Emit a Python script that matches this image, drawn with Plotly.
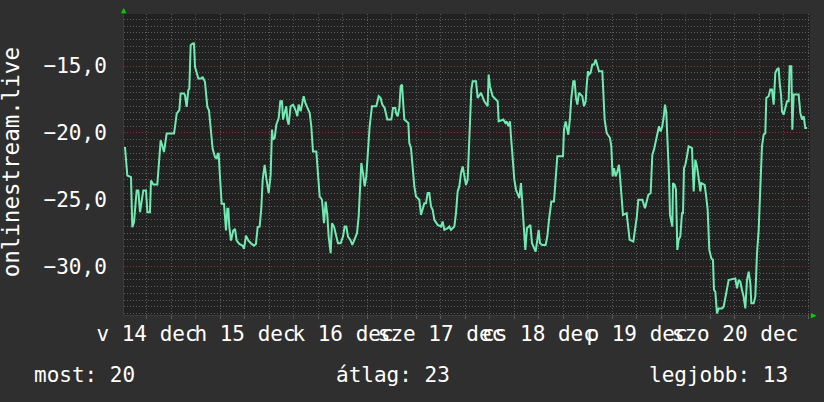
import pandas as pd
import plotly.graph_objects as go

# ---- data (hours since 2014-12-14 00:00, rank values) ----
START = "2014-12-14 00:00"

HOURS_A = [6.61, 6.86, 7.18, 8.08, 8.41, 8.82, 9.47, 9.88, 10.29, 11.10,
           11.76, 12.08, 12.73, 12.98, 13.55, 14.53, 15.02, 15.35, 15.84, 16.16,
           16.82, 18.61, 18.86, 19.27, 19.92, 20.24, 21.06, 21.31, 21.71, 22.12,
           22.37, 22.69, 23.18, 23.51, 23.76, 24.16, 24.57, 25.39, 25.63, 26.20,
           26.78, 27.18, 27.59, 28.08, 28.65, 29.06, 29.31, 29.55, 29.88, 30.29,
           30.86, 31.35, 31.67, 31.92, 32.16, 32.57, 33.14, 33.55, 33.96, 34.61,
           35.43, 35.76, 36.24, 36.82, 37.63, 38.20, 38.69, 39.10, 39.59]
VALUES_A = [-21.05, -22.05, -23.18, -23.30, -27.05, -26.68, -24.30, -24.30, -25.93, -24.30,
            -24.30, -25.93, -25.93, -23.55, -23.85, -23.85, -22.18, -20.55, -21.05, -21.43,
            -20.05, -20.05, -19.55, -18.55, -18.30, -17.05, -17.05, -17.18, -18.05, -16.80,
            -16.68, -13.43, -13.30, -13.30, -15.05, -15.43, -15.93, -15.93, -15.80, -16.18,
            -18.05, -18.30, -19.80, -21.18, -21.80, -21.93, -21.55, -21.55, -23.30, -25.30,
            -25.30, -27.30, -25.68, -25.68, -27.05, -28.05, -27.30, -27.18, -28.05, -28.30,
            -28.43, -28.68, -27.68, -28.05, -28.30, -28.43, -28.30, -27.05, -27.00]

HOURS_B = [40.00, 40.33, 40.82, 41.22, 41.80, 42.29, 42.61, 42.86, 43.27, 43.67,
           44.25, 44.65, 45.06, 45.31, 45.71, 46.12, 46.37, 46.69, 47.18, 47.76,
           48.33, 48.82, 49.14, 49.63, 49.96, 50.37, 50.78, 51.27, 51.84, 52.24,
           52.65, 53.47, 53.88, 54.29, 54.86, 55.35, 55.76, 56.16, 56.49, 56.98,
           57.31, 57.80, 58.37, 58.78, 59.43, 60.00, 60.41, 60.82, 61.22, 61.80,
           62.29, 62.86, 63.43, 63.84, 64.08, 64.49, 64.90, 65.31, 65.71, 66.12,
           66.53, 67.10, 68.16, 68.74, 69.22, 69.63, 70.20, 70.86, 71.84, 72.24,
           72.82]
VALUES_B = [-25.63, -23.50, -22.38, -23.38, -24.50, -23.13, -19.75, -20.50, -20.38, -19.38,
            -18.88, -17.63, -17.63, -19.00, -18.38, -18.00, -19.00, -19.38, -18.00, -17.88,
            -18.25, -18.75, -17.88, -18.38, -17.88, -17.25, -17.75, -18.13, -18.50, -19.50,
            -21.38, -21.38, -23.00, -24.75, -25.00, -26.75, -25.13, -26.13, -27.75, -29.00,
            -26.75, -27.00, -27.75, -28.25, -28.25, -27.75, -27.00, -27.00, -27.75, -28.00,
            -28.38, -28.00, -27.50, -26.25, -24.25, -22.25, -23.00, -24.00, -23.25, -20.88,
            -19.50, -18.00, -18.00, -17.25, -17.38, -17.88, -18.13, -19.00, -19.00, -18.13,
            -18.13]

HOURS_C = [72.98, 73.39, 73.80, 74.12, 74.45, 74.78, 75.02, 76.00, 76.24, 76.65,
           77.06, 77.47, 77.88, 78.69, 79.10, 79.51, 79.92, 80.33, 80.73, 81.14,
           81.55, 81.96, 82.37, 83.18, 84.00, 84.41, 84.82, 85.63, 86.04, 86.45,
           87.27, 87.67, 88.08, 88.49, 88.90, 89.31, 89.71, 90.12, 90.53, 90.78,
           91.10, 91.43, 91.76, 92.57, 92.98, 93.80, 94.61, 95.43, 95.67, 96.00,
           96.65, 97.47, 97.88, 98.12, 99.27, 99.76, 100.08, 100.49, 100.90, 101.14,
           101.55, 101.96, 102.37, 103.18, 103.59, 104.00, 104.41, 104.65, 105.06, 105.88,
           106.29, 106.86]
VALUES_C = [-18.50, -18.75, -18.13, -16.50, -16.38, -17.75, -19.00, -19.25, -20.75, -21.13,
            -22.50, -24.00, -24.75, -25.00, -26.13, -25.63, -25.25, -25.25, -24.50, -24.50,
            -25.50, -25.75, -26.50, -26.88, -27.00, -26.63, -27.25, -27.13, -27.00, -27.25,
            -27.00, -26.00, -24.38, -24.00, -23.00, -22.50, -23.13, -23.88, -23.50, -21.75,
            -19.63, -16.75, -16.13, -16.13, -17.38, -17.00, -17.63, -18.00, -15.63, -16.50,
            -17.25, -17.50, -17.63, -19.13, -19.00, -19.25, -19.13, -19.50, -19.13, -20.25,
            -22.00, -23.50, -24.25, -24.88, -23.75, -25.75, -27.75, -28.75, -27.13, -26.88,
            -28.25, -28.75]

HOURS_D = [107.18, 107.59, 107.92, 108.24, 108.82, 109.63, 110.04, 110.45, 111.02, 111.67,
           112.08, 112.49, 113.88, 114.12, 114.53, 115.18, 115.59, 115.92, 116.41, 116.73,
           117.06, 117.39, 117.80, 118.61, 119.02, 119.43, 119.67, 120.00, 120.24, 120.65,
           121.06, 121.47, 121.88, 122.29, 122.69, 123.51, 123.76, 124.08, 124.57, 125.39,
           125.71, 126.04, 126.37, 126.78, 127.18, 127.59, 127.84, 128.16, 128.57, 129.47,
           129.88, 130.20, 131.10, 131.51, 131.92, 132.33, 133.31, 133.96, 134.37, 134.78,
           135.35, 135.76, 136.16, 136.57, 136.98, 137.39, 137.80, 138.20, 138.61, 138.86,
           139.18, 139.43, 139.84, 140.08, 140.65]
VALUES_D = [-28.88, -28.00, -27.25, -28.25, -28.38, -28.38, -27.75, -26.50, -25.13, -25.13,
            -23.75, -21.75, -21.75, -19.75, -19.13, -20.13, -18.88, -17.38, -16.13, -16.13,
            -17.38, -17.88, -17.00, -17.25, -18.00, -17.63, -16.50, -15.38, -15.63, -15.50,
            -14.88, -14.88, -14.50, -14.88, -15.38, -15.38, -17.50, -19.00, -20.00, -20.38,
            -21.00, -23.25, -22.63, -23.25, -22.88, -22.38, -23.25, -24.63, -26.13, -26.00,
            -27.00, -28.00, -28.13, -27.25, -26.38, -25.00, -25.00, -25.63, -25.13, -24.63,
            -24.50, -21.63, -21.25, -20.63, -20.13, -19.50, -19.88, -19.50, -18.63, -17.88,
            -18.50, -20.25, -23.25, -26.13, -27.00]

HOURS_E = [140.82, 141.22, 141.55, 141.88, 142.20, 142.61, 143.02, 143.27, 143.51, 143.84,
           144.24, 144.65, 145.47, 145.88, 146.29, 146.69, 147.10, 147.51, 147.76, 148.57,
           148.90, 149.31, 149.71, 150.20, 150.61, 150.86, 151.18, 151.59, 152.00, 152.82,
           153.22, 153.63, 154.04, 154.45, 156.08, 156.49, 156.90, 157.31, 157.71, 158.12,
           158.53, 158.94, 159.35, 159.76, 160.00, 160.57, 160.98, 161.39, 161.80, 162.20,
           162.61, 163.02, 163.43, 163.67, 164.24, 164.65, 165.06, 165.47, 165.88, 166.29,
           166.69, 166.94, 167.27, 167.51, 167.92, 168.33, 168.73, 169.14, 169.39, 169.80,
           170.04, 170.37, 171.59, 172.00, 172.41, 172.82, 173.22, 173.63]
VALUES_E = [-23.75, -23.88, -24.25, -28.75, -28.00, -27.75, -26.00, -26.00, -22.63, -22.38,
            -21.75, -21.00, -21.13, -24.38, -22.00, -22.50, -23.38, -24.38, -23.75, -23.88,
            -24.63, -25.75, -28.75, -29.38, -29.50, -31.75, -31.88, -33.50, -33.13, -33.13,
            -33.00, -32.38, -31.50, -31.00, -30.88, -31.63, -31.00, -31.13, -31.75, -32.25,
            -33.13, -31.00, -30.38, -31.25, -32.75, -32.75, -32.25, -29.00, -27.25, -23.38,
            -21.00, -20.13, -20.00, -17.38, -17.25, -16.75, -16.75, -17.88, -15.50, -15.25,
            -15.13, -16.25, -17.13, -18.38, -18.63, -18.13, -17.63, -17.63, -15.00, -15.00,
            -19.75, -17.13, -17.13, -18.50, -19.00, -18.75, -19.63, -19.63]

# x axis: day labels (Hungarian), placed at each following midnight and shifted back half a day
DAY_LABELS = ["v 14 dec", "h 15 dec", "k 16 dec", "sze 17 dec", "cs 18 dec", "p 19 dec", "szo 20 dec"]
DAY_TICKS = ["2014-12-15", "2014-12-16", "2014-12-17", "2014-12-18",
             "2014-12-19", "2014-12-20", "2014-12-21"]
X_RANGE_HOURS = [6.37, 174.37]
Y_RANGE = [-33.62, -11.10]
Y_TICKS = [-15, -20, -25, -30]

SERIES_NAME = "onlinestream.live"
LEGEND_LABELS = ["most", "átlag", "legjobb"]
LEGEND_VALUES = [20, 23, 13]

# ---- build ----
hours = HOURS_A + HOURS_B + HOURS_C + HOURS_D + HOURS_E
values = VALUES_A + VALUES_B + VALUES_C + VALUES_D + VALUES_E
n = min(len(hours), len(values))
base = pd.Timestamp(START)
times = base + pd.to_timedelta(hours[:n], unit="h")
xr = [base + pd.Timedelta(hours=h) for h in X_RANGE_HOURS]

BG = "#2f2f2f"
PLOT_BG = "#212121"
LINE = "#70eab2"
MINOR = "#5c5c5c"
MAJOR = "#8a3434"
FONT = "DejaVu Sans Mono"

fig = go.Figure()
fig.add_trace(go.Scatter(x=times, y=values[:n], mode="lines",
                         line=dict(color=LINE, width=2), hoverinfo="skip",
                         showlegend=False))

fig.update_layout(
    width=824, height=402,
    margin=dict(l=124, r=14, t=14, b=87, autoexpand=False),
    paper_bgcolor=BG, plot_bgcolor=PLOT_BG,
    separators=",.",
    font=dict(family=FONT, color="#ffffff", size=20),
    showlegend=False,
)

fig.update_xaxes(
    type="date", range=xr, automargin=False,
    tickmode="array", tickvals=DAY_TICKS, ticktext=DAY_LABELS,
    tickangle=0, ticklabelshift=-49, ticklabeloverflow="allow",
    ticklabelstandoff=-3,
    ticks="outside", ticklen=3, tickcolor=MAJOR, tickwidth=1,
    showgrid=True, gridcolor=MAJOR, gridwidth=1, griddash="1px,2px",
    minor=dict(dtick=6 * 3600 * 1000, tick0="2014-12-14", showgrid=True,
               gridcolor=MINOR, gridwidth=1, griddash="1px,2px",
               ticks="outside", ticklen=3, tickcolor=MINOR),
    showline=True, linecolor="#3c3c3c", linewidth=1,
    zeroline=False, tickfont=dict(family=FONT, size=21, color="#ffffff"),
    fixedrange=True,
)
fig.update_yaxes(
    range=Y_RANGE, automargin=False,
    tickmode="array", tickvals=Y_TICKS, tickformat=".1f",
    ticks="", ticklabelstandoff=12,
    showgrid=True, gridcolor=MAJOR, gridwidth=1, griddash="1px,2px",
    minor=dict(dtick=0.5, tick0=0, showgrid=True, gridcolor=MINOR,
               gridwidth=1, griddash="1px,2px"),
    showline=True, linecolor="#3c3c3c", linewidth=1,
    zeroline=False, tickfont=dict(family=FONT, size=21, color="#ffffff"),
    fixedrange=True,
)

# y-axis title (rotated)
fig.add_annotation(text=SERIES_NAME, xref="paper", yref="paper",
                   x=-0.165, y=0.5066, xanchor="center", yanchor="middle",
                   textangle=-90, showarrow=False,
                   font=dict(family=FONT, size=22.5, color="#ffffff"))

# legend line
leg_x = [-0.1341, 0.3061, 0.9708]
leg_anchor = ["left", "left", "right"]
for lab, val, lx, anc in zip(LEGEND_LABELS, LEGEND_VALUES, leg_x, leg_anchor):
    fig.add_annotation(text=f"{lab}: {val}", xref="paper", yref="paper",
                       x=lx, y=-0.1993, xanchor=anc, yanchor="middle",
                       showarrow=False,
                       font=dict(family=FONT, size=21, color="#ffffff"))

# axis arrows
fig.add_annotation(text="▲", xref="paper", yref="paper", x=0, y=1,
                   xanchor="center", yanchor="bottom", showarrow=False,
                   borderpad=0, yshift=-2, font=dict(size=9, color="#00d000"))
fig.add_annotation(text="▶", xref="paper", yref="paper", x=1, y=0,
                   xanchor="left", yanchor="middle", showarrow=False,
                   borderpad=0, font=dict(size=9, color="#00d000"))

fig.write_html(
    "out.html",
    config={"displayModeBar": False},
    post_script="document.body.style.margin='0';"
                "document.body.style.background='" + BG + "';",
)
